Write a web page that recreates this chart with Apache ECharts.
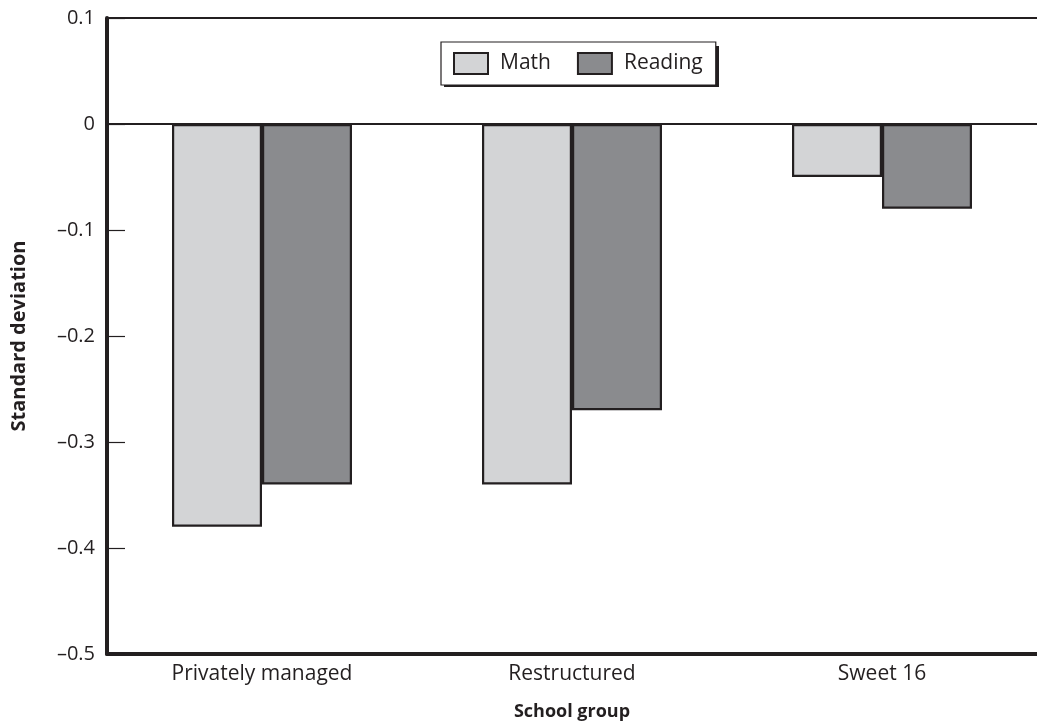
<!DOCTYPE html>
<html><head><meta charset="utf-8">
<script src="https://cdn.jsdelivr.net/npm/echarts@6/dist/echarts.min.js"></script>
<style>html,body{margin:0;padding:0;background:#fff}#c{width:1037px;height:723px}</style>
</head><body><div id="c"></div>
<script>
var categories = ["Privately managed", "Restructured", "Sweet 16"];
var mathValues = [-0.38, -0.34, -0.05];
var readingValues = [-0.34, -0.27, -0.08];
var yMin = -0.5, yMax = 0.1, yStep = 0.1;

var ink = '#231f20';
var font = '"Open Sans", "DejaVu Sans", sans-serif';
var chart = echarts.init(document.getElementById('c'));
chart.setOption({
  animation: false,
  backgroundColor: '#fff',
  textStyle: { fontFamily: font },
  grid: { left: 107, right: 0, top: 18, bottom: 69, outerBoundsMode: 'none', containLabel: false },
  graphic: [{
    type: 'rect', z: 1, left: 444, top: 46, silent: true,
    shape: { width: 275, height: 41 },
    style: { fill: ink }
  }],
  legend: {
    left: 441, top: 42, z: 10,
    icon: 'rect',
    itemWidth: 34, itemHeight: 21, itemGap: 26,
    padding: [10, 13, 10, 12],
    borderColor: ink, borderWidth: 1.2,
    backgroundColor: '#fff',
    textStyle: { fontFamily: font, fontSize: 21, color: ink, padding: [0, 0, 0, 7] },
    data: ['Math', 'Reading']
  },
  xAxis: {
    type: 'category', data: categories,
    position: 'bottom',
    axisLine: { onZero: false, lineStyle: { color: ink, width: 4 } },
    axisTick: { show: false },
    axisLabel: { fontSize: 21, color: ink, margin: 10, fontFamily: font },
    name: 'School group', nameLocation: 'middle', nameGap: 49,
    nameTextStyle: { fontSize: 18, fontWeight: 'bold', color: ink, fontFamily: font }
  },
  yAxis: {
    type: 'value', min: yMin, max: yMax, interval: yStep,
    axisLine: { show: true, lineStyle: { color: ink, width: 4 } },
    axisTick: { show: true, inside: true, length: 18, lineStyle: { color: ink, width: 1.2 } },
    splitLine: { show: false },
    axisLabel: {
      fontSize: 20, color: ink, margin: 12, fontFamily: font,
      formatter: function (v) {
        var r = Math.round(v * 10) / 10;
        if (r === 0) return '0';
        return (r < 0 ? '\u2013' : '') + Math.abs(r).toFixed(1);
      }
    },
    name: 'Standard deviation', nameLocation: 'middle', nameGap: 78, nameRotate: 90,
    nameTextStyle: { fontSize: 20, fontWeight: 'bold', color: ink, fontFamily: font }
  },
  series: [
    {
      name: 'Math', type: 'bar', data: mathValues,
      barWidth: 90, barGap: '0%',
      itemStyle: { color: '#d3d4d6', borderColor: ink, borderWidth: 2.2 },
      markLine: {
        silent: true, symbol: 'none', label: { show: false },
        lineStyle: { color: ink, width: 2, type: 'solid' },
        data: [{ yAxis: 0 }, { yAxis: yMax }]
      }
    },
    {
      name: 'Reading', type: 'bar', data: readingValues,
      barWidth: 90,
      itemStyle: { color: '#8a8b8e', borderColor: ink, borderWidth: 2.2 }
    }
  ]
});
</script></body></html>
